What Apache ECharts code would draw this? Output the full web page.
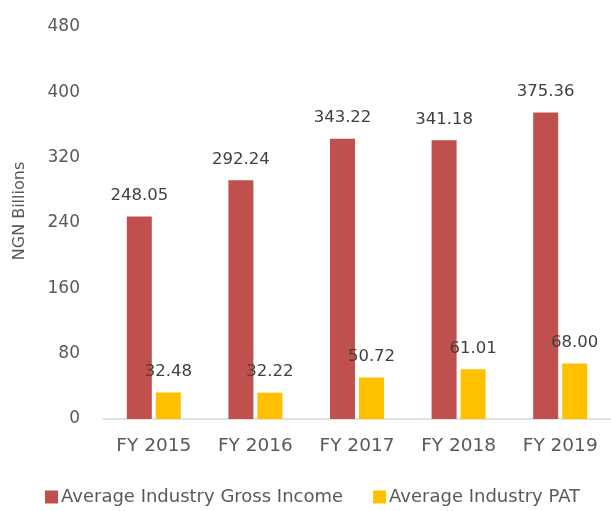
<!DOCTYPE html>
<html>
<head>
<meta charset="utf-8">
<script src="https://cdn.jsdelivr.net/npm/echarts@6/dist/echarts.min.js"></script>
<style>
  html, body { margin: 0; padding: 0; background: #fff; }
  #chart { width: 611px; height: 511px; }
</style>
</head>
<body>
<div id="chart"></div>
<script>
const years = ["FY 2015", "FY 2016", "FY 2017", "FY 2018", "FY 2019"];
const grossIncome = [248.05, 292.24, 343.22, 341.18, 375.36];
const pat = [32.48, 32.22, 50.72, 61.01, 68.0];

const font = "'DejaVu Sans', sans-serif";
const textColor = "#595959";

const chart = echarts.init(document.getElementById("chart"));
chart.setOption({
  animation: false,
  textStyle: { fontFamily: font },
  grid: { left: 103, top: 27, width: 517, height: 392, containLabel: false },
  legend: {
    bottom: 0,
    left: 40,
    itemWidth: 13,
    itemHeight: 13,
    itemGap: 30,
    icon: "rect",
    textStyle: { color: textColor, fontSize: 18, fontFamily: font, padding: [0, 0, 0, -2] },
    data: ["Average Industry Gross Income", "Average Industry PAT"],
  },
  xAxis: {
    type: "category",
    data: years,
    axisLine: { lineStyle: { color: "#d9d9d9", width: 1.5 } },
    axisTick: { show: false },
    axisLabel: { color: textColor, fontSize: 18.5, margin: 18, fontFamily: font },
  },
  yAxis: {
    type: "value",
    min: 0,
    max: 480,
    interval: 80,
    name: "NGN Billions",
    nameLocation: "middle",
    nameGap: 75,
    nameRotate: 90,
    nameTextStyle: { color: textColor, fontSize: 16, fontFamily: font, padding: [0, 0, 0, 24] },
    splitLine: { show: false },
    axisLine: { show: false },
    axisTick: { show: false },
    axisLabel: { color: textColor, fontSize: 17, margin: 23, fontFamily: font },
  },
  series: [
    {
      name: "Average Industry Gross Income",
      type: "bar",
      data: grossIncome,
      barWidth: 25,
      barGap: "16%",
      itemStyle: { color: "#C0504D" },
      label: {
        show: true,
        position: "top",
        distance: 12,
        color: "#404040",
        fontSize: 16.5,
        fontFamily: font,
        formatter: (p) => p.value.toFixed(2),
      },
    },
    {
      name: "Average Industry PAT",
      type: "bar",
      data: pat,
      barWidth: 25,
      itemStyle: { color: "#FFC000" },
      label: {
        show: true,
        position: "top",
        distance: 12,
        color: "#404040",
        fontSize: 16.5,
        fontFamily: font,
        formatter: (p) => p.value.toFixed(2),
      },
    },
  ],
});
</script>
</body>
</html>
